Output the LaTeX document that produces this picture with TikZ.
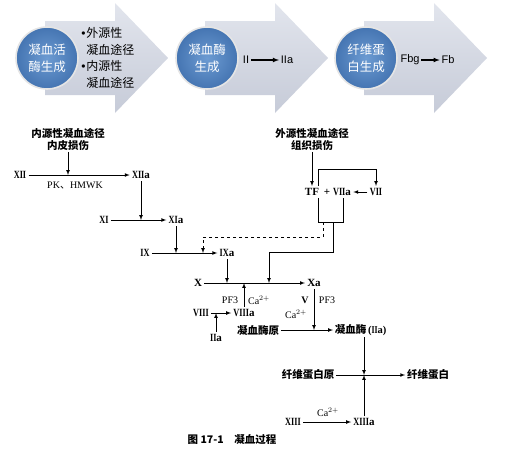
\documentclass[tikz,border=0pt]{standalone}
\usepackage{fontspec}
\usepackage{tikz}
\usetikzlibrary{arrows}
\setmainfont{Liberation Serif}
\newfontfamily\cjk{Noto Sans CJK SC}
\newfontfamily\sans{Liberation Sans}
\definecolor{arrowtop}{RGB}{226,229,237}
\definecolor{arrowbot}{RGB}{198,203,216}
\definecolor{discin}{RGB}{108,155,210}
\definecolor{discmid}{RGB}{64,112,174}
\definecolor{discout}{RGB}{28,68,126}
\pgfdeclareradialshading{disc}{\pgfpoint{0bp}{0bp}}{color(0bp)=(discin); color(28bp)=(discmid); color(48bp)=(discout); color(100bp)=(discout)}
\newcommand{\romn}[1]{\scalebox{0.75}[1]{#1}}

\begin{document}
\begin{tikzpicture}[x=1pt,y=-1pt,line width=0.7pt,
    fac/.style={font=\bfseries\fontsize{11}{13}\selectfont,inner sep=2pt},
    txt/.style={font=\cjk\bfseries\fontsize{10.5}{12}\selectfont,inner sep=1.5pt,align=center},
    sm/.style={font=\fontsize{10}{11}\selectfont,inner sep=1pt},
    ball/.style={circle,minimum size=62pt,shading=disc,draw=white!80!gray,line width=1.6pt,
        text=white,font=\cjk\fontsize{12.5}{17}\selectfont,align=center},
    stagetxt/.style={font=\sans\fontsize{11}{13}\selectfont,inner sep=1.5pt}]
    \useasboundingbox (0,0) rectangle (526,461);
    \def\bigarrow{(0,21) -- (70,21) -- (70,3) -- (123,58) -- (70,113) -- (70,95) -- (0,95) -- cycle}
    \foreach \s in {45,205,364}
        \shade[top color=arrowtop,bottom color=arrowbot,shift={(\s,0)}] \bigarrow;
    \node[ball] (stage1) at (47,58) {凝血活\\酶生成};
    \node[ball] (stage2) at (207,58) {凝血酶\\生成};
    \node[ball] (stage3) at (366,58) {纤维蛋\\白生成};
    \node[font=\cjk\fontsize{12}{16.7}\selectfont,align=left,anchor=west,inner sep=0pt] (paths) at (81,58)
        {\makebox[5pt][l]{\sans •}外源性\\\hspace*{5pt}凝血途径\\\makebox[5pt][l]{\sans •}内源性\\\hspace*{5pt}凝血途径};
    \node[stagetxt] (iiT) at (246,60) {II};
    \node[stagetxt] (iiaT) at (287,60) {IIa};
    \draw[-latex,line width=1.1pt] (iiT) -- (iiaT);
    \node[stagetxt] (fbgT) at (410,60) {Fbg};
    \node[stagetxt] (fbT) at (448,60) {Fb};
    \draw[-latex,line width=1.1pt] (fbgT) -- (fbT);

    \node[txt] (intr) at (68,139) {内源性凝血途径\\内皮损伤};
    \node[fac] (fxii) at (20,175) {\romn{XII}};
    \node[fac] (fxiia) at (141,175) {\romn{XII}a};
    \node[sm] (pk) at (75,186) {PK{\cjk 、}HMWK};
    \node[fac] (fxi) at (104,220) {\romn{XI}};
    \node[fac] (fxia) at (176,220) {\romn{XI}a};
    \node[fac] (fix) at (145,253) {\romn{IX}};
    \node[fac] (fixa) at (227,253) {\romn{IX}a};
    \node[fac] (fx) at (198,283) {X};
    \node[fac] (fxa) at (314,283) {Xa};
    \node[fac] (fviii) at (201,313) {\romn{VIII}};
    \node[fac] (fviiia) at (244,313) {\romn{VIII}a};
    \node[fac] (fiia) at (216,338) {\romn{II}a};
    \node[sm] (pfl) at (230,300) {PF3};
    \node[sm] (cal) at (259,300) {Ca$^{2+}$};
    \node[sm] (fv) at (305,300) {\bfseries V};
    \node[sm] (pfr) at (327,300) {PF3};
    \node[sm] (car) at (296,314) {Ca$^{2+}$};
    \node[txt] (pro) at (258,330) {凝血酶原};
    \node[txt,anchor=west] (thr) at (333,330) {凝血酶\,{\rmfamily\bfseries(\romn{II}a)}};
    \node[txt] (fbgn) at (308,375) {纤维蛋白原};
    \node[txt] (fbn) at (428,375) {纤维蛋白};
    \node[fac] (fxiii) at (293,422) {\romn{XIII}};
    \node[fac] (fxiiia) at (364,422) {\romn{XIII}a};
    \node[sm] (cab) at (328,412) {Ca$^{2+}$};
    \node[txt] (cap) at (232,440) {图 17-1\quad 凝血过程};
    \node[txt] (extr) at (312,139) {外源性凝血途径\\组织损伤};
    \node[fac] (tf) at (312,192) {TF};
    \node[fac] (plus) at (327,192) {+};
    \node[fac] (fviia) at (342,192) {\romn{VII}a};
    \node[fac] (fvii) at (376,192) {\romn{VII}};

    \coordinate (fb) at (318,169);
    \coordinate (boxL) at (318,222);
    \coordinate (boxR) at (343,222);
    \coordinate (boxS) at (333,222);
    \coordinate (boxD) at (323,222);
    \coordinate (bendS) at (269,252);
    \coordinate (bendD) at (203,237);

    \draw[-latex] (intr) -- (intr |- fxii);
    \draw[-latex] (fxii) -- (fxiia);
    \draw[-latex] (fxiia) -- (fxiia |- fxi);
    \draw[-latex] (fxi) -- (fxia);
    \draw[-latex] (fxia) -- (fxia |- fix);
    \draw[-latex] (fix) -- (fixa);
    \draw[-latex] (fixa) -- (fixa |- fx);
    \draw[-latex] (fx) -- (fxa);
    \draw[-latex] (fviii) -- (fviiia);
    \draw[-latex] (fiia) -- (fiia |- fviii);
    \draw[-latex] (fviiia) -- (fviiia |- fx);
    \draw[-latex] (fxa) -- (fxa |- pro);
    \draw[-latex] (pro) -- (thr);
    \draw[-latex] (thr.south -| fxiiia) -- (fxiiia |- fbgn);
    \draw[-latex] (fbgn) -- (fbn);
    \draw[-latex] (fxiii) -- (fxiiia);
    \draw[-latex] (fxiiia) -- (fxiiia |- fbgn);
    \draw[-latex] (extr) -- (tf);
    \draw[-latex] (fvii) -- (fviia);
    \draw[-latex] (fb |- tf.north) -- (fb) -| (fvii.north);
    \draw (boxL |- tf.south) -- (boxL) -- (boxR) -- (boxR |- fviia.south);
    \draw[-latex] (boxS) |- (bendS) -- (bendS |- fx);
    \draw[dashed,-latex] (boxD) |- (bendD) -- (bendD |- fix);
\end{tikzpicture}
\end{document}
